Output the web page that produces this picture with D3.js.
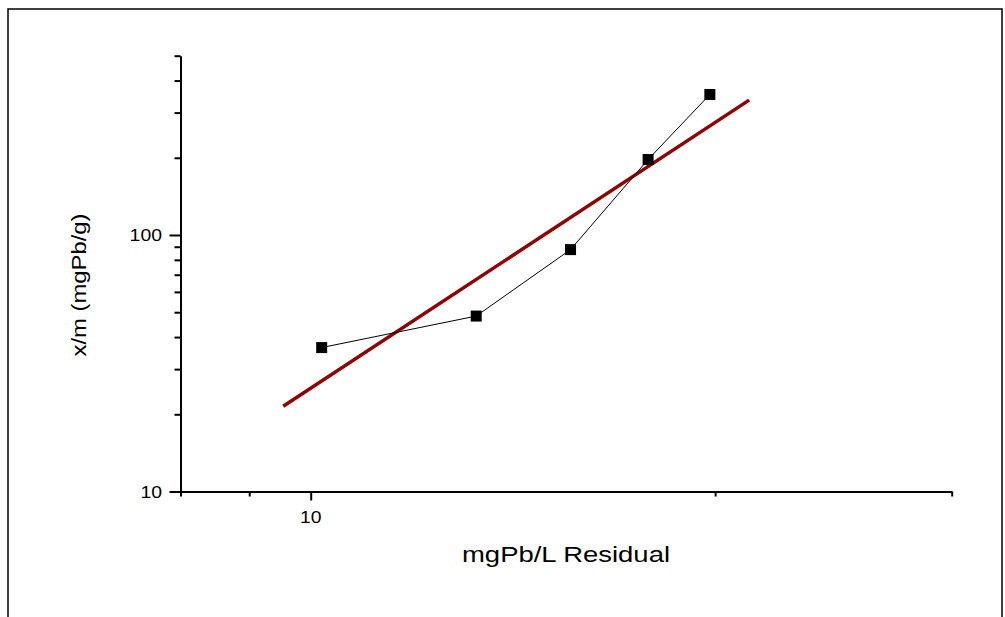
<!DOCTYPE html>
<html>
<head>
<meta charset="utf-8">
<script src="https://cdn.jsdelivr.net/npm/d3@7"></script>
<style>
  body { margin: 0; background: #fff; }
  text { font-family: "Liberation Sans", Arial, sans-serif; fill: #000; }
</style>
</head>
<body>
<div id="chart"></div>
<script>
// Data
const residual = [10.19, 13.28, 15.61, 17.83, 19.82];   // mgPb/L
const uptake   = [36.4, 48.3, 87.7, 196.9, 353];         // x/m mgPb/g
const fitX = [9.54, 21.2];
const fitY = [21.5, 335.5];
const xTicks = [8, 9, 10, 20, 30];
const xLabels = [10];
const yTicks = [10, 20, 30, 40, 50, 60, 70, 80, 90, 100, 200, 300, 400, 500];
const yLabels = [10, 100];

const W = 1005, H = 617;

const svg = d3.select("#chart")
  .append("svg")
    .attr("width", W)
    .attr("height", H);

// outer frame
svg.append("rect")
  .attr("x", 8).attr("y", 9)
  .attr("width", 994).attr("height", 640)
  .attr("fill", "none")
  .attr("stroke", "#000")
  .attr("stroke-width", 1.5);

const x = d3.scaleLog().domain([8, 30]).range([180.5, 951.7]);
const y = d3.scaleLog().domain([10, 500]).range([491.5, 55.7]);

// X axis
const xAxis = svg.append("g")
  .attr("transform", `translate(0, ${y(10)})`)
  .call(d3.axisBottom(x).tickValues(xTicks)
    .tickSize(5).tickSizeOuter(0).tickFormat(""));
xAxis.select(".domain").attr("stroke-width", 2);
xAxis.selectAll(".tick line")
  .attr("stroke-width", 2)
  .attr("y2", d => xLabels.includes(d) ? 9 : 5);
xLabels.forEach(v => {
  svg.append("text")
    .attr("x", x(v)).attr("y", 522.7)
    .attr("text-anchor", "middle")
    .attr("font-size", 17)
    .attr("textLength", 21.5).attr("lengthAdjust", "spacingAndGlyphs")
    .text(v);
});

// Y axis
const yAxis = svg.append("g")
  .attr("transform", `translate(${x(8)}, 0)`)
  .call(d3.axisLeft(y).tickValues(yTicks)
    .tickSize(6).tickSizeOuter(0).tickFormat(""));
yAxis.select(".domain").attr("stroke-width", 2);
yAxis.selectAll(".tick line")
  .attr("stroke-width", 2)
  .attr("x2", d => yLabels.includes(d) ? -11 : -6);
yLabels.forEach(v => {
  svg.append("text")
    .attr("x", 162).attr("y", y(v) + 6.2)
    .attr("text-anchor", "end")
    .attr("font-size", 17)
    .attr("textLength", String(v).length * 10.8).attr("lengthAdjust", "spacingAndGlyphs")
    .text(v);
});

// axis titles
svg.append("text")
  .attr("x", 566).attr("y", 561.7)
  .attr("text-anchor", "middle")
  .attr("font-size", 22.5)
  .attr("textLength", 208).attr("lengthAdjust", "spacingAndGlyphs")
  .text("mgPb/L Residual");

svg.append("text")
  .attr("transform", "translate(86, 285) rotate(-90)")
  .attr("text-anchor", "middle")
  .attr("font-size", 21)
  .attr("textLength", 143).attr("lengthAdjust", "spacingAndGlyphs")
  .text("x/m (mgPb/g)");

// fitted line
const fit = fitX.map((v, i) => ({ cx: v, cy: fitY[i] }));
svg.append("path")
  .datum(fit)
  .attr("fill", "none")
  .attr("stroke", "#8e0000")
  .attr("stroke-width", 3.5)
  .attr("d", d3.line().x(d => x(d.cx)).y(d => y(d.cy)));

// data line + markers
const pts = residual.map((v, i) => ({ cx: v, cy: uptake[i] }));
svg.append("path")
  .datum(pts)
  .attr("fill", "none")
  .attr("stroke", "#000")
  .attr("stroke-width", 1)
  .attr("d", d3.line().x(d => x(d.cx)).y(d => y(d.cy)));

svg.append("g")
  .selectAll("rect")
  .data(pts)
  .join("rect")
    .attr("x", d => x(d.cx) - 5.5)
    .attr("y", d => y(d.cy) - 5.5)
    .attr("width", 11)
    .attr("height", 11)
    .attr("fill", "#000");
</script>
</body>
</html>
